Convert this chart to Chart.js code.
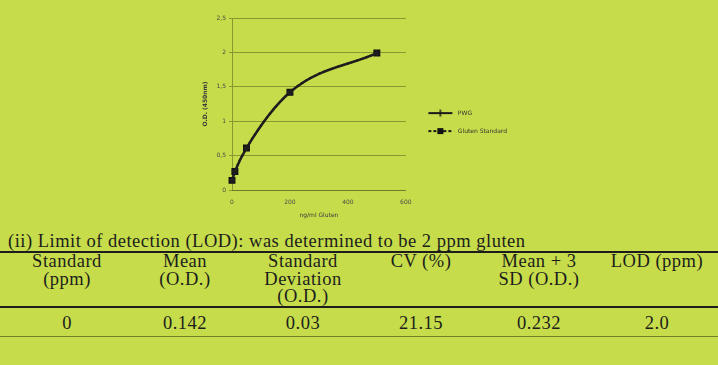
<!DOCTYPE html>
<html>
<head>
<meta charset="utf-8">
<script src="https://cdn.jsdelivr.net/npm/chart.js@4.4.1/dist/chart.umd.min.js"></script>
<style>
  html, body { margin: 0; padding: 0; width: 718px; height: 365px; background: #c6dc4a; overflow: hidden; }
  #chartBox { position: absolute; left: 0; top: 0; width: 718px; height: 230px; }
  #lod { position: absolute; left: 0; top: 232px; width: 718px; font-family: "Liberation Serif", "Times New Roman", serif; font-size: 18.5px; color: #1c1c1c; letter-spacing: 0.5px; }
  #lod .cap { height: 19px; line-height: 18px; padding-left: 8px; white-space: nowrap; }
  #lod table { width: 718px; border-collapse: collapse; table-layout: fixed; }
  #lod th { font-weight: normal; line-height: 17.5px; vertical-align: top; padding: 0; border-top: 2px solid #1c1c1c; border-bottom: 2px solid #1c1c1c; white-space: nowrap; }
  #lod td { line-height: 17.5px; padding: 7px 0 4px 0; text-align: center; border-bottom: 1px solid #6f7f2a; }
</style>
</head>
<body>
<div id="chartBox"><canvas id="curveChart"></canvas></div>
<div id="lod">
  <div class="cap">(ii) Limit of detection (LOD): was determined to be 2 ppm gluten</div>
  <table id="lodTable"></table>
</div>
<script>
// standard curve
const concentrations = [0, 10, 50, 200, 500];   // ng/ml gluten
const pwgOD = [0.14, 0.27, 0.61, 1.42, 1.99];
const glutenStdOD = [0.14, 0.27, 0.61, 1.42, 1.99];
const yTickLabels = ['0', '0,5', '1', '1,5', '2', '2,5'];
const xTickLabels = ['0', '200', '400', '600'];

// LOD table
const lodHeaders = ['Standard<br>(ppm)', 'Mean<br>(O.D.)', 'Standard<br>Deviation<br>(O.D.)', 'CV (%)', 'Mean + 3<br>SD (O.D.)', 'LOD (ppm)'];
const lodValues = ['0', '0.142', '0.03', '21.15', '0.232', '2.0'];

const table = document.getElementById('lodTable');
const colWidths = [8, 118, 118, 118, 118, 118, 118, 2];
table.innerHTML =
    '<colgroup>' + colWidths.map(w => '<col style="width:' + w + 'px">').join('') + '</colgroup>' +
    '<tr><th></th>' + lodHeaders.map(h => '<th>' + h + '</th>').join('') + '<th></th></tr>' +
    '<tr><td></td>' + lodValues.map(v => '<td>' + v + '</td>').join('') + '<td></td></tr>';

// little line+marker pictures for the legend
const makeIcon = (dashed, marker) => {
    const c = document.createElement('canvas');
    c.width = 40; c.height = 10;
    const g = c.getContext('2d');
    g.strokeStyle = '#1a1a1a';
    g.lineWidth = 2;
    if (dashed) g.setLineDash([3, 2]);
    g.beginPath(); g.moveTo(12, 5); g.lineTo(36, 5); g.stroke();
    g.setLineDash([]);
    if (marker === 'rect') {
        g.fillStyle = '#111';
        g.fillRect(21, 2, 6, 6);
    } else {
        g.lineWidth = 1.5;
        g.beginPath(); g.moveTo(24, 1.5); g.lineTo(24, 8.5); g.stroke();
    }
    return c;
};
const legendIcons = [makeIcon(false, 'cross'), makeIcon(true, 'rect')];

const tickFont = { family: 'DejaVu Sans', size: 6 };
const gridColor = 'rgba(95, 105, 35, 0.6)';

new Chart(document.getElementById('curveChart'), {
    type: 'line',
    data: {
        datasets: [{
            label: 'PWG',
            data: concentrations.map((c, i) => ({ x: c, y: pwgOD[i] })),
            borderColor: '#1e1e1e',
            backgroundColor: '#1e1e1e',
            borderWidth: 2.5,
            pointStyle: 'cross',
            pointRadius: 3,
            cubicInterpolationMode: 'monotone',
            clip: false,
        }, {
            label: 'Gluten Standard',
            data: concentrations.map((c, i) => ({ x: c, y: glutenStdOD[i] })),
            borderColor: '#111',
            backgroundColor: '#111',
            borderWidth: 2,
            borderDash: [3, 2],
            pointStyle: 'rect',
            pointRadius: 3.5,
            cubicInterpolationMode: 'monotone',
            clip: false,
        }]
    },
    options: {
        responsive: true,
        maintainAspectRatio: false,
        animation: false,
        layout: { padding: { left: 202, top: 18, bottom: 10, right: 201 } },
        scales: {
            x: {
                type: 'linear',
                min: 0,
                max: 600,
                afterFit: s => { s.height = 30; },
                ticks: {
                    stepSize: 200,
                    font: tickFont,
                    color: '#4a4a4a',
                    padding: 6,
                    callback: (v, i) => xTickLabels[i],
                },
                grid: { display: false, drawTicks: true, tickLength: 3, tickColor: gridColor },
                border: { display: true, color: gridColor },
                title: { display: true, text: 'ng/ml Gluten', font: tickFont, color: '#3a3a3a', padding: { top: 0, bottom: 1 } },
            },
            y: {
                min: 0,
                max: 2.5,
                afterFit: s => { s.width = 30; },
                ticks: {
                    stepSize: 0.5,
                    font: tickFont,
                    color: '#4a4a4a',
                    padding: 3,
                    callback: (v, i) => yTickLabels[i],
                },
                grid: { color: gridColor, tickLength: 3 },
                border: { display: true, color: gridColor },
                title: { display: true, text: 'O.D. (450nm)', font: { family: 'DejaVu Sans', size: 6, weight: 'bold' }, color: '#3a3a3a', padding: 0 },
            }
        },
        plugins: {
            tooltip: { enabled: false },
            legend: {
                position: 'right',
                maxWidth: 200,
                title: { display: true, text: '', font: { size: 1 }, padding: { top: 5, bottom: 0 } },
                labels: {
                    usePointStyle: true,
                    pointStyleWidth: 37,
                    padding: 12,
                    color: '#333',
                    font: tickFont,
                    generateLabels: chart => {
                        const items = Chart.defaults.plugins.legend.labels.generateLabels(chart);
                        items.forEach((it, i) => { it.pointStyle = legendIcons[i]; });
                        return items;
                    }
                }
            }
        }
    }
});
</script>
</body>
</html>
